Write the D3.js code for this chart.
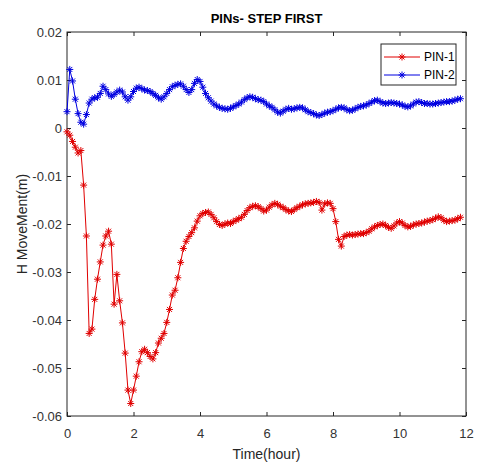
<!DOCTYPE html>
<html>
<head>
<meta charset="utf-8">
<script src="https://cdn.jsdelivr.net/npm/d3@7"></script>
<style>
  body { margin: 0; background: #fff; }
  text { font-family: "Liberation Sans", Arial, sans-serif; }
</style>
</head>
<body>
<div id="container"></div>
<script>
// samples every 5 minutes (1/12 hour), starting at t = 0
const stepHours = 1 / 12;

const pin1 = [
  -0.0008, -0.0015, -0.0028, -0.0040, -0.0052, -0.0047, -0.0119, -0.0225, -0.0428, -0.0419,
  -0.0357, -0.0315, -0.0279, -0.0244, -0.0225, -0.0215, -0.0242, -0.0367, -0.0305, -0.0360,
  -0.0406, -0.0469, -0.0546, -0.0574, -0.0546, -0.0517, -0.0487, -0.0466, -0.0461, -0.0468,
  -0.0476, -0.0481, -0.0468, -0.0448, -0.0438, -0.0428, -0.0405, -0.0378, -0.0348, -0.0338,
  -0.0312, -0.0280, -0.0251, -0.0236, -0.0226, -0.0218, -0.0208, -0.0194, -0.0183, -0.0178,
  -0.0176, -0.0175, -0.0180, -0.0187, -0.0195, -0.0201, -0.0203, -0.0200, -0.0198, -0.0199,
  -0.0195, -0.0192, -0.0189, -0.0186, -0.0180, -0.0172, -0.0166, -0.0163, -0.0162, -0.0164,
  -0.0168, -0.0173, -0.0171, -0.0165, -0.0160, -0.0157, -0.0159, -0.0163, -0.0166, -0.0170,
  -0.0173, -0.0174, -0.0170, -0.0166, -0.0163, -0.0160, -0.0158, -0.0157, -0.0156, -0.0155,
  -0.0153, -0.0155, -0.0171, -0.0158, -0.0156, -0.0157, -0.0168, -0.0195, -0.0232, -0.0246,
  -0.0226, -0.0223, -0.0222, -0.0223, -0.0222, -0.0221, -0.0220, -0.0220, -0.0218, -0.0215,
  -0.0210, -0.0206, -0.0203, -0.0201, -0.0200, -0.0203, -0.0207, -0.0209, -0.0204, -0.0198,
  -0.0195, -0.0198, -0.0203, -0.0206, -0.0205, -0.0202, -0.0200, -0.0199, -0.0198, -0.0196,
  -0.0194, -0.0193, -0.0191, -0.0188, -0.0185, -0.0187, -0.0192, -0.0195, -0.0194, -0.0193,
  -0.0192, -0.0189, -0.0186
];

const pin2 = [
  0.0034, 0.0122, 0.0098, 0.0060, 0.0030, 0.0012, 0.0008, 0.0028, 0.0052, 0.0060,
  0.0063, 0.0064, 0.0072, 0.0087, 0.0080, 0.0071, 0.0066, 0.0070, 0.0075, 0.0079,
  0.0075, 0.0065, 0.0058, 0.0065, 0.0076, 0.0083, 0.0085, 0.0082, 0.0079, 0.0078,
  0.0076, 0.0072, 0.0068, 0.0063, 0.0060, 0.0065, 0.0072, 0.0080, 0.0086, 0.0089,
  0.0091, 0.0092, 0.0087, 0.0080, 0.0074, 0.0080, 0.0093, 0.0101, 0.0097, 0.0085,
  0.0072, 0.0063, 0.0056, 0.0050, 0.0046, 0.0043, 0.0041, 0.0040, 0.0039, 0.0041,
  0.0044, 0.0047, 0.0050, 0.0054, 0.0059, 0.0063, 0.0065, 0.0064, 0.0061, 0.0059,
  0.0058, 0.0055, 0.0050, 0.0046, 0.0043, 0.0038, 0.0033, 0.0031, 0.0035, 0.0039,
  0.0041, 0.0039, 0.0040, 0.0042, 0.0043, 0.0042, 0.0038, 0.0034, 0.0032, 0.0030,
  0.0027, 0.0026, 0.0028, 0.0031, 0.0033, 0.0034, 0.0036, 0.0039, 0.0042, 0.0043,
  0.0042, 0.0038, 0.0036, 0.0037, 0.0040, 0.0043, 0.0045, 0.0046, 0.0048, 0.0051,
  0.0054, 0.0057, 0.0058, 0.0055, 0.0052, 0.0051, 0.0052, 0.0053, 0.0052, 0.0051,
  0.0050, 0.0048, 0.0045, 0.0044, 0.0046, 0.0050, 0.0054, 0.0055, 0.0053, 0.0051,
  0.0051, 0.0050, 0.0050, 0.0051, 0.0052, 0.0053, 0.0054, 0.0055, 0.0055, 0.0056,
  0.0058, 0.0060, 0.0061
];

const seriesNames = ['PIN-1', 'PIN-2'];
const seriesColors = ['#e00000', '#0000e0'];
const xTicks = [0, 2, 4, 6, 8, 10, 12];
const yTicks = [-0.06, -0.05, -0.04, -0.03, -0.02, -0.01, 0, 0.01, 0.02];

const w = 478;
const h = 464;
const mLeft = 67, mRight = 466, mTop = 32, mBottom = 416;
const axisColor = '#262626';

const svg = d3.select('#container')
              .append('svg')
              .attr('width', w)
              .attr('height', h);

const xScale = d3.scaleLinear().domain([0, 12]).range([mLeft, mRight]);
const yScale = d3.scaleLinear().domain([-0.06, 0.02]).range([mBottom, mTop]);

const fmt = (d) => d === 0 ? '0' : String(+d.toFixed(2));

// axes, ticks pointing inward like matlab
const xAxis = d3.axisBottom(xScale).tickValues(xTicks).tickSize(-4).tickPadding(13).tickFormat(fmt);
const yAxis = d3.axisLeft(yScale).tickValues(yTicks).tickSize(-4).tickPadding(5).tickFormat(fmt);

svg.append('g')
   .attr('transform', 'translate(0,' + mBottom + ')')
   .call(xAxis);
svg.append('g')
   .attr('transform', 'translate(' + mLeft + ',0)')
   .call(yAxis);
svg.append('g')
   .attr('transform', 'translate(0,' + mTop + ')')
   .call(d3.axisTop(xScale).tickValues(xTicks).tickSize(-4).tickFormat(''));
svg.append('g')
   .attr('transform', 'translate(' + mRight + ',0)')
   .call(d3.axisRight(yScale).tickValues(yTicks).tickSize(-4).tickFormat(''));

svg.selectAll('.domain').remove();
svg.selectAll('.tick line').attr('stroke', axisColor);
svg.selectAll('.tick text')
   .attr('fill', '#333')
   .style('font-size', '13px')
   .style('font-family', '"Liberation Sans", Arial, sans-serif');

svg.append('rect')
   .attr('x', mLeft)
   .attr('y', mTop)
   .attr('width', mRight - mLeft)
   .attr('height', mBottom - mTop)
   .attr('fill', 'none')
   .attr('stroke', axisColor)
   .attr('stroke-width', 1);

// asterisk marker
const star = 'M-3.5,0H3.5M0,-3.5V3.5M-2.5,-2.5L2.5,2.5M-2.5,2.5L2.5,-2.5';

const line = d3.line()
               .x((d, i) => xScale(i * stepHours))
               .y((d) => yScale(d));

[pin1, pin2].forEach((data, k) => {
  const g = svg.append('g');
  g.append('path')
   .datum(data)
   .attr('d', line)
   .attr('fill', 'none')
   .attr('stroke', seriesColors[k])
   .attr('stroke-width', 1);
  g.selectAll('path.mark')
   .data(data)
   .enter()
   .append('path')
   .attr('class', 'mark')
   .attr('d', star)
   .attr('transform', (d, i) => 'translate(' + xScale(i * stepHours) + ',' + yScale(d) + ')')
   .attr('stroke', seriesColors[k])
   .attr('stroke-width', 1)
   .attr('fill', 'none');
});

// title and labels
svg.append('text')
   .attr('x', (mLeft + mRight) / 2)
   .attr('y', 23)
   .attr('text-anchor', 'middle')
   .style('font-size', '13px')
   .style('font-weight', 'bold')
   .attr('fill', '#000')
   .text('PINs- STEP FIRST');

svg.append('text')
   .attr('x', (mLeft + mRight) / 2)
   .attr('y', 459)
   .attr('text-anchor', 'middle')
   .style('font-size', '14px')
   .attr('fill', '#262626')
   .text('Time(hour)');

svg.append('text')
   .attr('transform', 'translate(27,' + (mTop + mBottom) / 2 + ') rotate(-90)')
   .attr('text-anchor', 'middle')
   .style('font-size', '14px')
   .attr('fill', '#262626')
   .text('H MoveMent(m)');

// legend
const legend = svg.append('g');
legend.append('rect')
      .attr('x', 381)
      .attr('y', 44)
      .attr('width', 75)
      .attr('height', 41)
      .attr('fill', '#fff')
      .attr('stroke', axisColor);

seriesNames.forEach((name, k) => {
  const ly = 57 + k * 18;
  legend.append('line')
        .attr('x1', 384).attr('x2', 420)
        .attr('y1', ly).attr('y2', ly)
        .attr('stroke', seriesColors[k]);
  legend.append('path')
        .attr('d', star)
        .attr('transform', 'translate(402,' + ly + ')')
        .attr('stroke', seriesColors[k])
        .attr('fill', 'none');
  legend.append('text')
        .attr('x', 424)
        .attr('y', ly)
        .attr('dy', '0.35em')
        .style('font-size', '12px')
        .attr('fill', '#000')
        .text(name);
});
</script>
</body>
</html>
